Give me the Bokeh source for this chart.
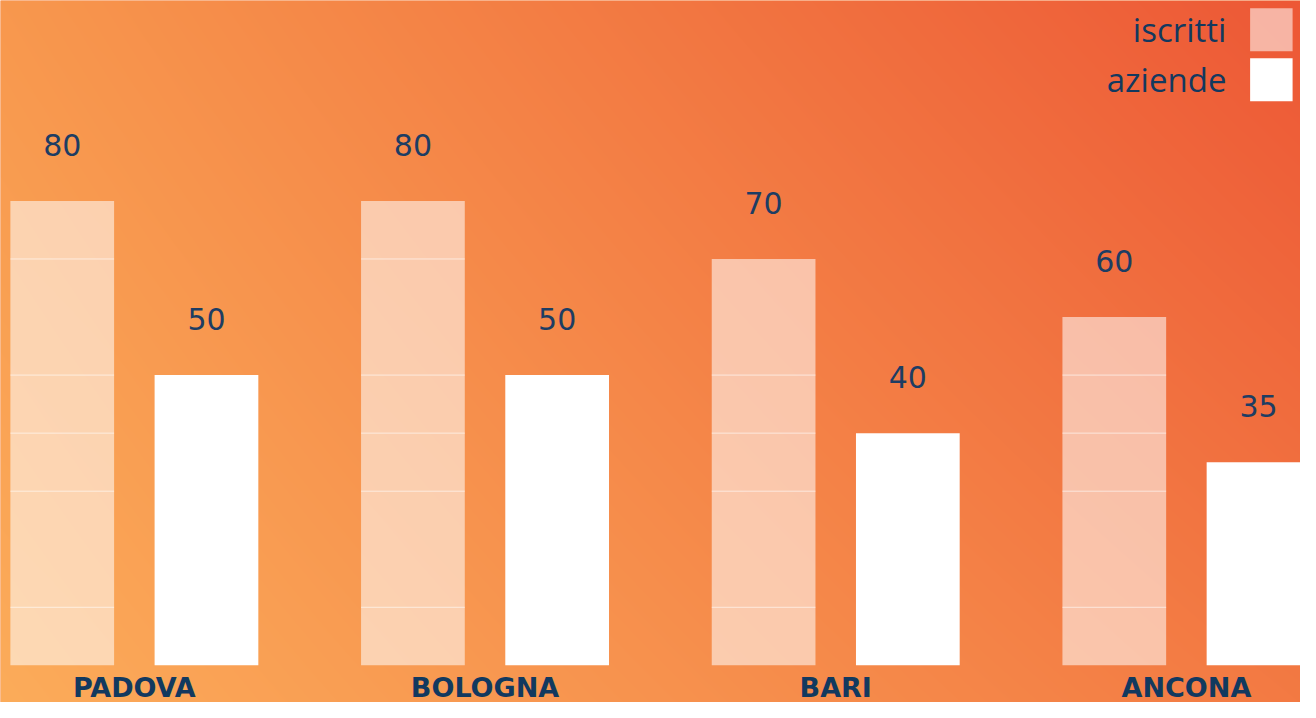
import numpy as np
from bokeh.plotting import figure
from bokeh.models import Range1d, ColumnDataSource, LabelSet
from bokeh.core.properties import value
from bokeh.embed import file_html
from bokeh.resources import INLINE

# ---- data ----
cities = ["PADOVA", "BOLOGNA", "BARI", "ANCONA"]
iscritti = [80, 80, 70, 60]
aziende = [50, 50, 40, 35]
series_names = ["iscritti", "aziende"]
grid_values = [10, 30, 40, 50, 70]

# ---- layout ----
W, H = 1300, 702
SX, SY = W / 1316.0, H / 718.0
GROUP_PX = 355.0 * SX
PX_PER_UNIT = 475.0 * SY / 80.0
x_start = -(135.5 * SX) / GROUP_PX
x_end = x_start + W / GROUP_PX
base_from_bottom = H - 680.0 * SY
y_start = -base_from_bottom / PX_PER_UNIT
y_end = y_start + H / PX_PER_UNIT

def X(px):  # reference pixel x -> data
    return x_start + px * SX / GROUP_PX

def Y(py):  # reference pixel y (from top) -> data
    return y_end - py * SY / PX_PER_UNIT

bar_w = 105.0 / 355.0
off = 73.0 / 355.0
navy = "#12395f"

p = figure(width=W, height=H, x_range=Range1d(x_start, x_end), y_range=Range1d(y_start, y_end),
           output_backend="svg", toolbar_location=None, min_border=0)
p.axis.visible = False
p.grid.visible = False
p.outline_line_color = None
p.background_fill_color = "#f68a48"
p.border_fill_color = "#f68a48"

# ---- gradient background ----
TL = np.array([248, 152, 78]); TR = np.array([237, 88, 54])
BL = np.array([252, 172, 90]); BR = np.array([243, 122, 67])
ys, xs = np.mgrid[0:H, 0:W]
u = (xs / (W - 1.0))[..., None]
v = (ys / (H - 1.0))[..., None]  # 0 top, 1 bottom
col = (TL * (1 - u) * (1 - v) + TR * u * (1 - v) + BL * (1 - u) * v + BR * u * v)
col = col[::-1]  # image rows start at the bottom
img = np.empty((H, W), dtype=np.uint32)
view = img.view(dtype=np.uint8).reshape((H, W, 4))
view[..., 0] = col[..., 0].astype(np.uint8)
view[..., 1] = col[..., 1].astype(np.uint8)
view[..., 2] = col[..., 2].astype(np.uint8)
view[..., 3] = 255
p.image_rgba(image=[img], x=x_start, y=y_start, dw=x_end - x_start, dh=y_end - y_start)

# ---- bars ----
idx = np.arange(len(cities))
src_i = ColumnDataSource(dict(x=idx - off, top=iscritti, lab=[str(v_) for v_ in iscritti]))
src_a = ColumnDataSource(dict(x=idx + off, top=aziende, lab=[str(v_) for v_ in aziende]))
p.vbar(x="x", top="top", bottom=0, width=bar_w, source=src_i, fill_color="white", fill_alpha=0.55, line_color=None)
p.vbar(x="x", top="top", bottom=0, width=bar_w, source=src_a, fill_color="white", fill_alpha=1.0, line_color=None)

# grid lines visible on the translucent bars
gx0, gx1, gy = [], [], []
for i, val in enumerate(iscritti):
    for g in grid_values:
        if g < val:
            gx0.append(i - off - bar_w / 2); gx1.append(i - off + bar_w / 2); gy.append(g)
p.segment(x0=gx0, x1=gx1, y0=gy, y1=gy, line_color="white", line_alpha=0.6, line_width=1)

# value labels
for src in (src_i, src_a):
    p.add_layout(LabelSet(x="x", y="top", text="lab", source=src, y_offset=56, text_align="center",
                          text_baseline="middle", text_font=value("DejaVu Sans"), text_font_size="30px",
                          text_color="#1d3d63"))

# category labels
p.text(x=list(idx), y=[Y(718)] * len(cities), text=cities, text_align="center", text_baseline="bottom",
       text_font=value("DejaVu Sans"), text_font_style="bold", text_font_size="27px", text_color=navy)

# ---- legend (label left, swatch right) ----
box_specs = [(8, 52, 0.55), (59, 103, 1.0)]
for (top_px, bot_px, alpha), name in zip(box_specs, series_names):
    p.quad(left=X(1265), right=X(1308), top=Y(top_px), bottom=Y(bot_px), fill_color="white",
           fill_alpha=alpha, line_color=None)
    p.text(x=[X(1241)], y=[Y((top_px + bot_px) / 2)], text=[name], text_align="right", text_baseline="middle",
           text_font=value("Open Sans"), text_font_size="33px", text_color=navy)

open("out.html", "w").write(file_html(p, INLINE))
